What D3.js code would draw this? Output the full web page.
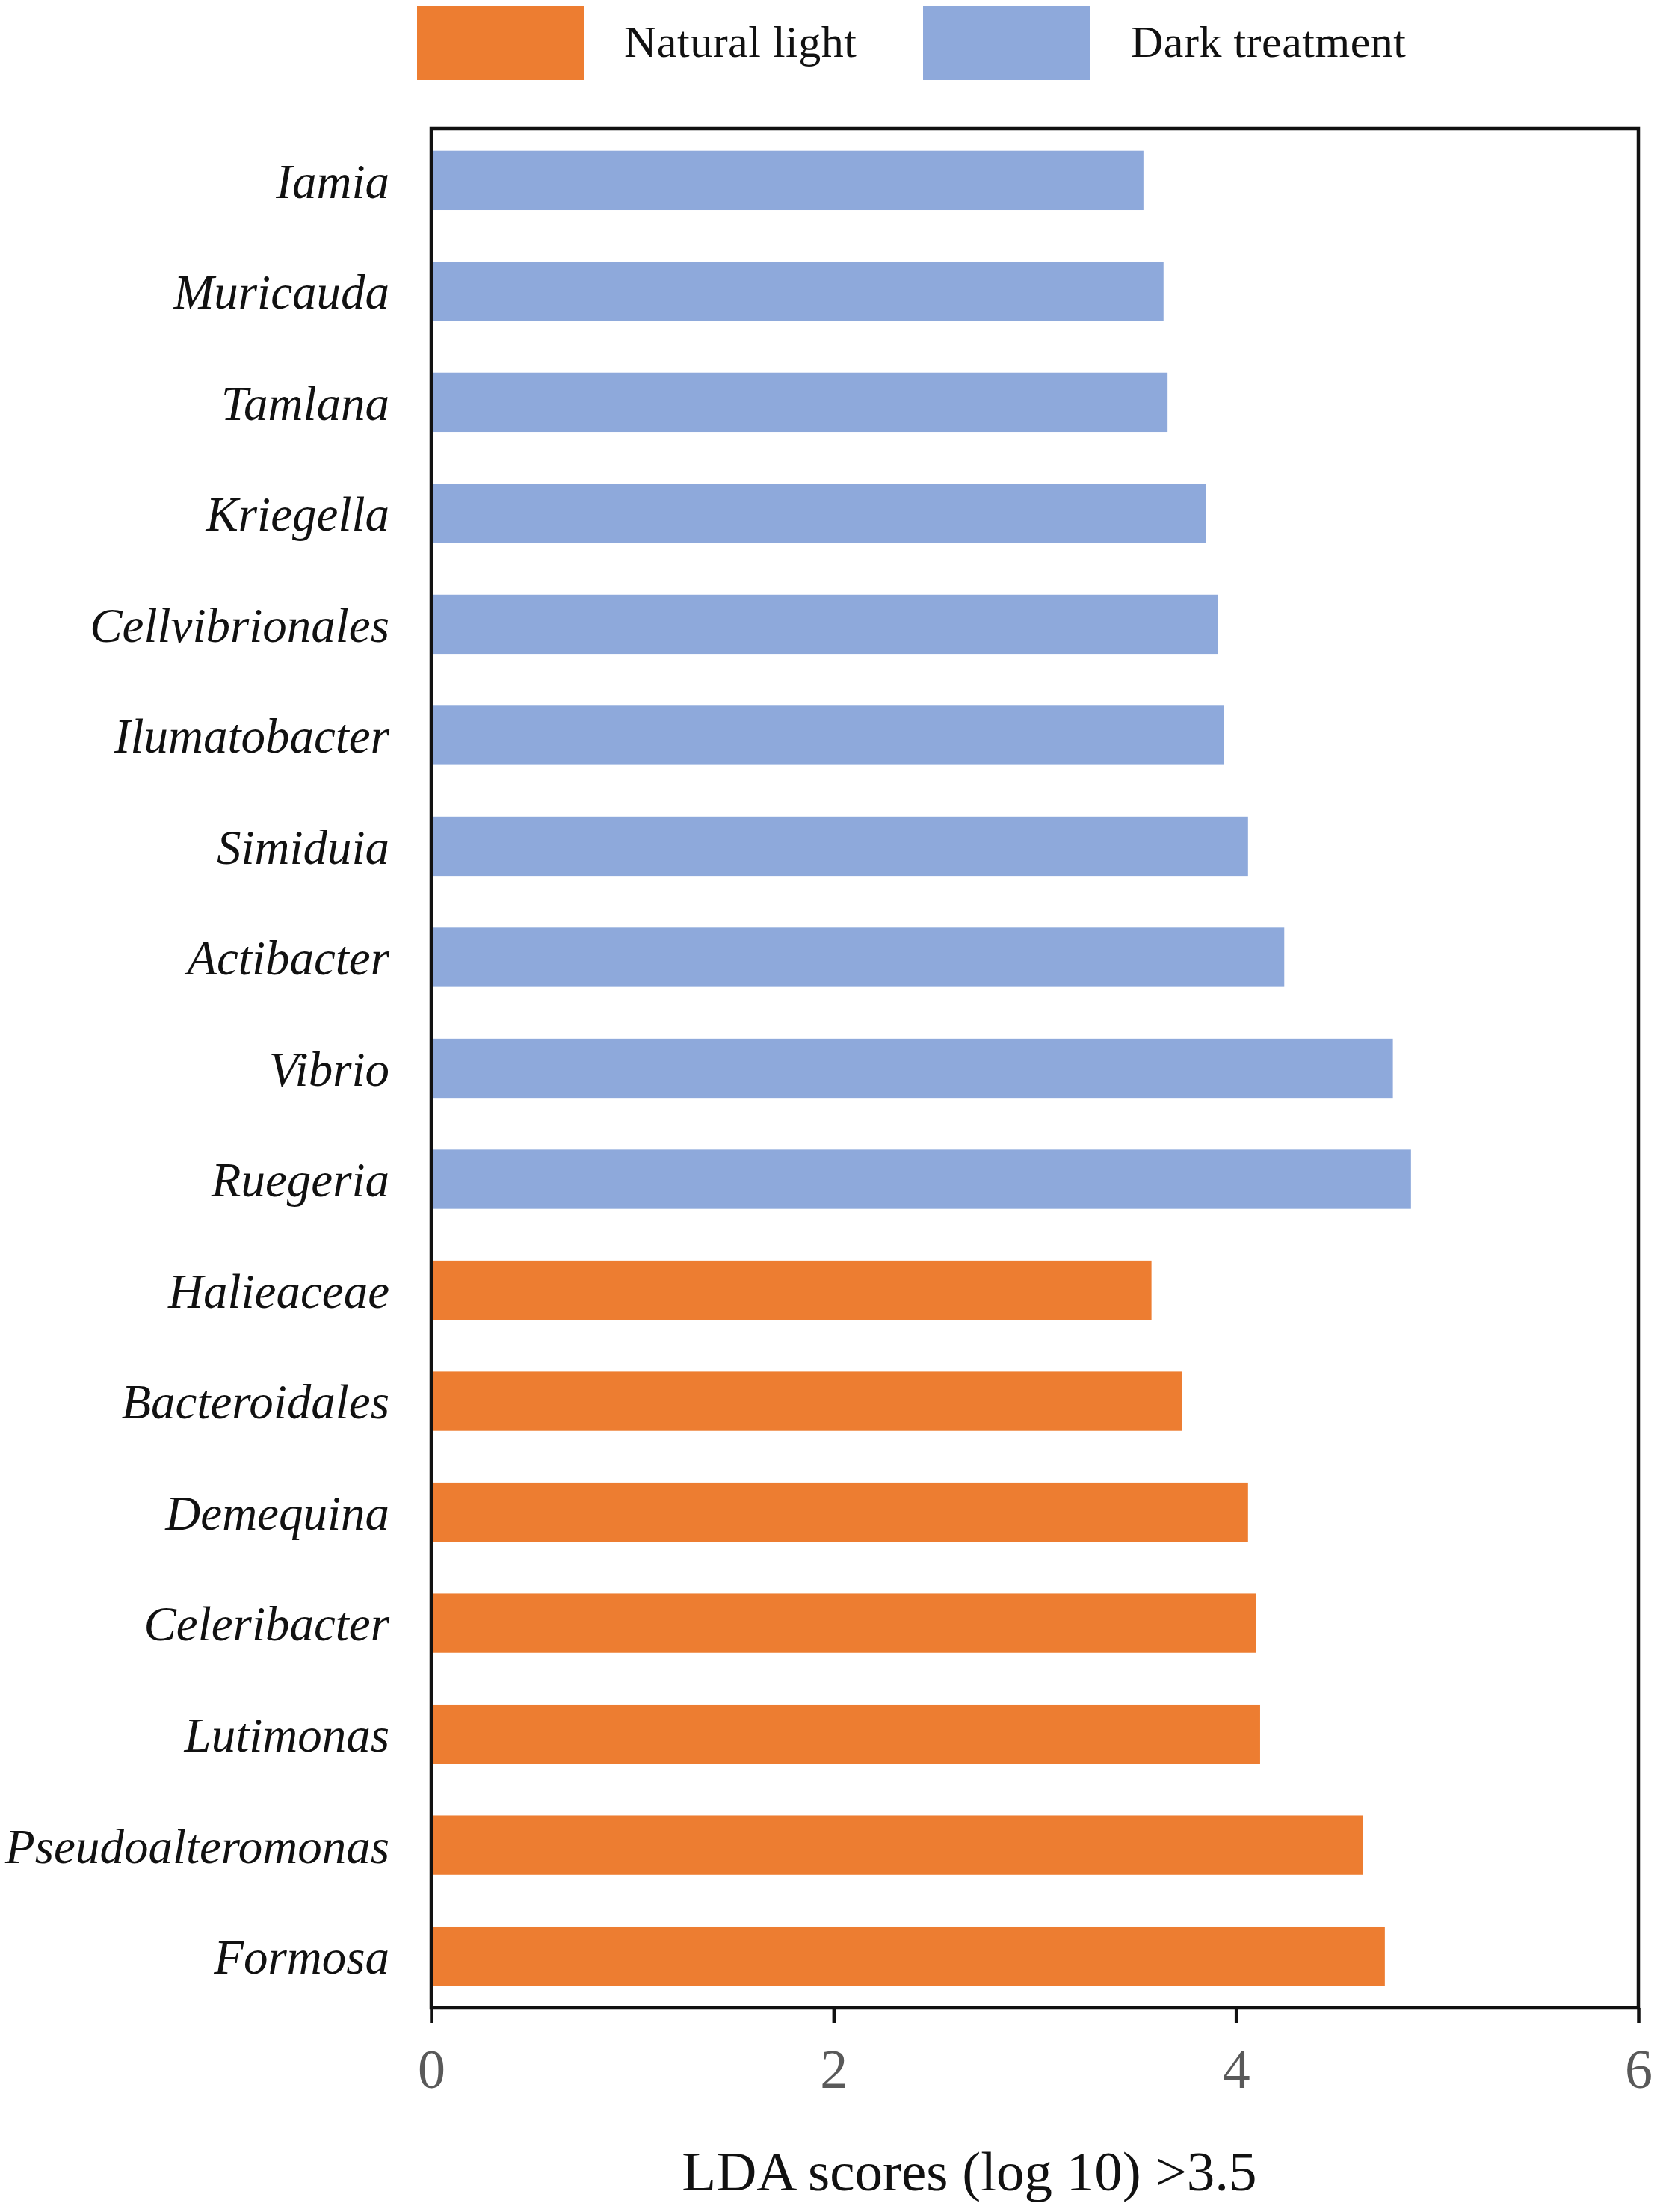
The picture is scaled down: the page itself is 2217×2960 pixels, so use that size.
<!DOCTYPE html>
<html>
<head>
<meta charset="utf-8">
<script src="https://cdn.jsdelivr.net/npm/d3@7"></script>
<style>
  html, body { margin: 0; padding: 0; background: #fff; }
  svg { display: block; }
</style>
</head>
<body>
<script>
// taxa, top to bottom as drawn
const taxa = [
  'Iamia', 'Muricauda', 'Tamlana', 'Kriegella', 'Cellvibrionales',
  'Ilumatobacter', 'Simiduia', 'Actibacter', 'Vibrio', 'Ruegeria',
  'Halieaceae', 'Bacteroidales', 'Demequina', 'Celeribacter',
  'Lutimonas', 'Pseudoalteromonas', 'Formosa'
];
const groupOf = [
  'Dark treatment', 'Dark treatment', 'Dark treatment', 'Dark treatment', 'Dark treatment',
  'Dark treatment', 'Dark treatment', 'Dark treatment', 'Dark treatment', 'Dark treatment',
  'Natural light', 'Natural light', 'Natural light', 'Natural light',
  'Natural light', 'Natural light', 'Natural light'
];
const ldaScores = [
  3.54, 3.64, 3.66, 3.85, 3.91,
  3.94, 4.06, 4.24, 4.78, 4.87,
  3.58, 3.73, 4.06, 4.10,
  4.12, 4.63, 4.74
];
const groups = ['Natural light', 'Dark treatment'];
const groupColors = ['#ED7D31', '#8EA9DB'];
const xTicks = [0, 2, 4, 6];
const xTitle = 'LDA scores (log 10) >3.5';

const width = 2217;
const height = 2960;
const plot = { left: 577, right: 2192, top: 172, bottom: 2687 };

const data = taxa.map((name, i) => ({ name, group: groupOf[i], value: ldaScores[i] }));

const svg = d3.select('body')
  .append('svg')
  .attr('width', width)
  .attr('height', height)
  .attr('viewBox', `0 0 ${width} ${height}`)
  .style('font-family', '"Liberation Serif", "Times New Roman", serif');

svg.append('rect').attr('width', width).attr('height', height).attr('fill', '#fff');

const color = d3.scaleOrdinal().domain(groups).range(groupColors);

const x = d3.scaleLinear()
  .domain([0, 6])
  .range([plot.left, plot.right]);

const y = d3.scaleBand()
  .domain(taxa)
  .range([plot.top, plot.bottom])
  .paddingInner(0.466)
  .paddingOuter(0.2);

// bars
svg.append('g')
  .selectAll('rect')
  .data(data)
  .join('rect')
  .attr('x', x(0))
  .attr('y', (d) => y(d.name))
  .attr('width', (d) => x(d.value) - x(0))
  .attr('height', y.bandwidth())
  .attr('fill', (d) => color(d.group));

// frame
svg.append('rect')
  .attr('x', plot.left)
  .attr('y', plot.top)
  .attr('width', plot.right - plot.left)
  .attr('height', plot.bottom - plot.top)
  .attr('fill', 'none')
  .attr('stroke', '#111')
  .attr('stroke-width', 4.5);

// x axis
const xAxis = svg.append('g')
  .attr('transform', `translate(0,${plot.bottom})`)
  .call(d3.axisBottom(x)
    .tickValues(xTicks)
    .tickFormat(d3.format('d'))
    .tickSizeInner(20)
    .tickSizeOuter(0)
    .tickPadding(34));
xAxis.select('.domain').remove();
xAxis.selectAll('.tick line').attr('stroke', '#111').attr('stroke-width', 4.5);
xAxis.selectAll('.tick text')
  .attr('fill', '#595959')
  .style('font-size', '74px')
  .style('font-family', '"Liberation Serif", "Times New Roman", serif');

// y axis labels
const yAxis = svg.append('g')
  .attr('transform', `translate(${plot.left},0)`)
  .call(d3.axisLeft(y).tickSize(0).tickPadding(56));
yAxis.select('.domain').remove();
yAxis.selectAll('.tick text')
  .attr('fill', '#111')
  .attr('dy', '0.36em')
  .style('font-size', '65px')
  .style('font-style', 'italic')
  .style('font-family', '"Liberation Serif", "Times New Roman", serif');

// x title
svg.append('text')
  .attr('x', 1297)
  .attr('y', 2931)
  .attr('text-anchor', 'middle')
  .attr('fill', '#111')
  .style('font-size', '75px')
  .text(xTitle);

// legend
const legendX = [558, 1235];
const legend = svg.append('g')
  .selectAll('g')
  .data(groups)
  .join('g')
  .attr('transform', (d, i) => `translate(${legendX[i]},0)`);

legend.append('rect')
  .attr('x', 0)
  .attr('y', 8)
  .attr('width', 223)
  .attr('height', 99)
  .attr('fill', (d) => color(d));

legend.append('text')
  .attr('x', (d, i) => (i === 0 ? 277 : 278))
  .attr('y', 76)
  .attr('fill', '#111')
  .style('font-size', '60px')
  .style('letter-spacing', '0.5px')
  .text((d) => d);
</script>
</body>
</html>
